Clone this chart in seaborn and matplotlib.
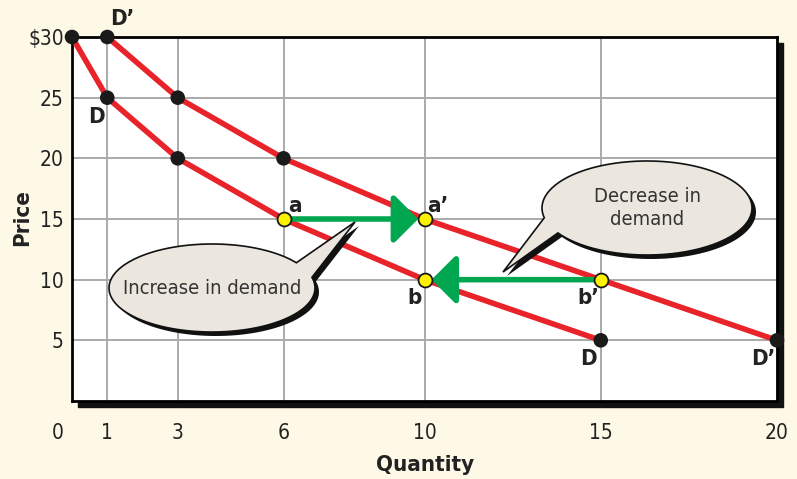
import numpy as np
import pandas as pd
import matplotlib
matplotlib.use('Agg')
import matplotlib.pyplot as plt
import matplotlib.transforms as mtransforms
from matplotlib.patches import Rectangle, Polygon
import seaborn as sns

# Dados das curvas de demanda
qty_d = [0, 1, 3, 6, 10, 15]
price_d = [30, 25, 20, 15, 10, 5]
qty_d2 = [1, 3, 6, 10, 15, 20]
price_d2 = [30, 25, 20, 15, 10, 5]

# pontos destacados (a, b em D; a', b' em D')
point_names = ['a', 'b', "a\u2019", "b\u2019"]
point_qty = [6, 10, 10, 15]
point_price = [15, 10, 15, 10]

x_ticks = [0, 1, 3, 6, 10, 15, 20]
y_ticks = [5, 10, 15, 20, 25, 30]
y_tick_labels = ['5', '10', '15', '20', '25', '$30']

RED = '#e8232a'
GREEN = '#00a650'
BG = '#fdf9e6'
BUBBLE = '#ebe7de'

sns.set_style('white')
plt.rcParams['font.family'] = ['DejaVu Sans']
plt.rcParams['font.stretch'] = 'condensed'

W, H = 797, 479
fig = plt.figure(figsize=(W / 100, H / 100), dpi=100, facecolor=BG)
L, R, T, B = 72, 777, 37, 401
ax = fig.add_axes([L / W, 1 - B / H, (R - L) / W, (B - T) / H])
ax.set_xlim(0, 20)
ax.set_ylim(0, 30)
ax.set_zorder(2)
ax.patch.set_facecolor('white')

# sombra da moldura
fig.patches.append(Rectangle(((L + 6) / W, 1 - (B + 6) / H), (R - L) / W, (B - T) / H,
                             transform=fig.transFigure, color='#111111', zorder=0))

for s in ax.spines.values():
    s.set_color('black')
    s.set_linewidth(2)

# curvas
df_d = pd.DataFrame({'q': qty_d, 'p': price_d})
df_d2 = pd.DataFrame({'q': qty_d2, 'p': price_d2})
sns.lineplot(data=df_d, x='q', y='p', color=RED, lw=4, ax=ax, sort=False, clip_on=False, zorder=3)
sns.lineplot(data=df_d2, x='q', y='p', color=RED, lw=4, ax=ax, sort=False, clip_on=False, zorder=3)

# pontos pretos
black_d = df_d[~df_d['q'].isin([6, 10])]
black_d2 = df_d2[~df_d2['q'].isin([10, 15])]
for d in (black_d, black_d2):
    sns.scatterplot(data=d, x='q', y='p', color='#1a1a1a', s=110, edgecolor='none',
                    ax=ax, clip_on=False, zorder=6)

ax.set_xticks(x_ticks)
ax.set_yticks(y_ticks)
ax.set_yticklabels(y_tick_labels)
ax.tick_params(length=0, labelsize=15, colors='#222222')
ax.tick_params(axis='x', pad=16)
ax.tick_params(axis='y', pad=6)
ax.grid(True, color='#aaaaaa', lw=1.4)
ax.set_axisbelow(True)

# desloca o "0" para a esquerda
lbl0 = ax.get_xticklabels()[0]
lbl0.set_transform(lbl0.get_transform() + mtransforms.ScaledTranslation(-14 / 100, 0, fig.dpi_scale_trans))

ax.set_xlabel('Quantity', fontsize=16, fontweight='bold', color='#222222', va='center')
ax.set_ylabel('Price', fontsize=16, fontweight='bold', color='#222222', va='center')
ax.xaxis.set_label_coords(0.501, -(465 - B) / (B - T))
ax.yaxis.set_label_coords(-(L - 22) / (R - L), 0.5 - (218 - (T + B) / 2) / (B - T))

# setas verdes
ax.annotate('', xy=(9.82, 15), xytext=(6.2, 15),
            arrowprops=dict(arrowstyle='-|>,head_length=0.75,head_width=0.75', lw=4,
                            color=GREEN, mutation_scale=20, shrinkA=0, shrinkB=0), zorder=5)
ax.annotate('', xy=(10.2, 10), xytext=(14.8, 10),
            arrowprops=dict(arrowstyle='-|>,head_length=0.75,head_width=0.75', lw=4,
                            color=GREEN, mutation_scale=20, shrinkA=0, shrinkB=0), zorder=5)

# pontos amarelos
df_pts = pd.DataFrame({'q': point_qty, 'p': point_price, 'n': point_names})
sns.scatterplot(data=df_pts, x='q', y='p', color='#fff200', s=100, edgecolor='#1a1a1a',
                linewidth=1.3, ax=ax, zorder=7)

# rótulos das curvas e pontos
lab_kw = dict(textcoords='offset pixels', fontsize=16, fontweight='bold', color='#222222',
              ha='center', va='center', annotation_clip=False, zorder=8)
ax.annotate('D\u2019', (1, 30), xytext=(15, 18), **lab_kw)
ax.annotate('D', (1, 25), xytext=(-11, -19), **lab_kw)
ax.annotate('D', (15, 5), xytext=(-12, -19), **lab_kw)
ax.annotate('D\u2019', (20, 5), xytext=(-14, -19), **lab_kw)
ax.annotate(point_names[0], (6, 15), xytext=(11, 13), **lab_kw)
ax.annotate(point_names[2], (10, 15), xytext=(13, 13), **lab_kw)
ax.annotate(point_names[1], (10, 10), xytext=(-10, -18), **lab_kw)
ax.annotate(point_names[3], (15, 10), xytext=(-12, -18), **lab_kw)


# balões de fala (em pixels da imagem)
def bubble(cx, cy, a, b, t0, t1, tip, text):
    t = np.radians(np.linspace(t1, t0 + 360, 200))
    xs = cx + a * np.cos(t)
    ys = cy - b * np.sin(t)
    pts = np.vstack([np.column_stack([xs, ys]), [tip]])
    disp = np.column_stack([pts[:, 0], H - pts[:, 1]])
    data = ax.transData.inverted().transform(disp)
    shadow = ax.transData.inverted().transform(disp + np.array([4, -4]))
    ax.add_patch(Polygon(shadow, closed=True, facecolor='#111111', edgecolor='none', zorder=8))
    ax.add_patch(Polygon(data, closed=True, facecolor=BUBBLE, edgecolor='#111111', lw=1.2, zorder=9))
    c = ax.transData.inverted().transform([[cx, H - cy]])[0]
    ax.text(c[0], c[1], text, fontsize=14.5, color='#333333', ha='center', va='center',
            linespacing=1.3, zorder=10)


bubble(212, 288, 103, 44, 14, 35, (355, 222), 'Increase in demand')
bubble(647, 208, 105, 47, 192, 212, (503, 272), 'Decrease in\ndemand')

fig.savefig('out.png', dpi=100, facecolor=BG)
